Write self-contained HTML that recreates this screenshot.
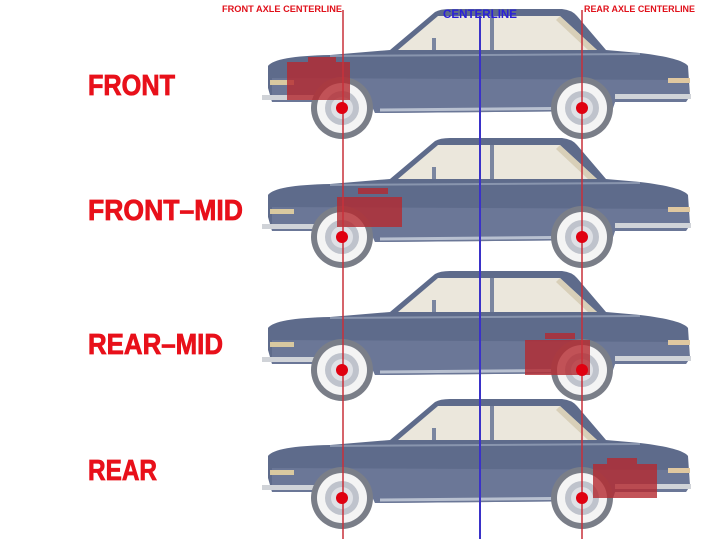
<!DOCTYPE html>
<html><head><meta charset="utf-8"><style>
html,body{margin:0;padding:0;background:#fff;width:720px;height:539px;overflow:hidden}
svg{display:block}
text{font-family:"Liberation Sans",sans-serif;font-weight:bold}
</style></head><body>
<svg width="720" height="539" viewBox="0 0 720 539" xmlns="http://www.w3.org/2000/svg">
<defs>
<g id="car">
  <path d="M268,-42 Q275,-52 330,-53 L390,-58 L435,-96 Q440,-99 450,-99 L562,-99 Q572,-98 577,-92 L606,-58 L640,-55 Q682,-50 688,-42 L690,-12 L686,-6 L615,-6 L612,3 L375,5 L370,-6 L272,-6 L268,-20 Z" fill="#5e6b8b"/>
  <path d="M272,-30 L688,-28 L690,-12 L686,-6 L615,-6 L612,3 L375,5 L370,-6 L272,-6 Z" fill="#6e7b9a" opacity="0.8"/>
  <path d="M398,-58 L438,-92 L560,-92 L597,-58 Z" fill="#ebe7dc"/>
  <rect x="490" y="-92" width="4" height="34" fill="#7b86a0"/>
  <rect x="432" y="-70" width="4" height="12" fill="#7b86a0"/>
  <path d="M560,-92 L597,-58 L588,-58 L556,-88 Z" fill="#d8cfb8"/>
  <line x1="330" y1="-52" x2="640" y2="-54" stroke="#8995ae" stroke-width="2"/>
  <rect x="262" y="-13" width="70" height="5" fill="#d0d3d8"/>
  <rect x="615" y="-14" width="76" height="5" fill="#d0d3d8"/>
  <rect x="270" y="-28" width="24" height="5" fill="#d9c9a0"/>
  <rect x="668" y="-30" width="22" height="5" fill="#e0c8a0"/>
  <line x1="380" y1="2" x2="610" y2="0" stroke="#b8c0d0" stroke-width="3"/>
</g>
<g id="wheel">
  <circle r="31" fill="#7a7e88"/>
  <circle r="25" fill="#f4f4f4"/>
  <circle r="17" fill="#bfc3cc"/>
  <circle r="11" fill="#dfe1e6"/>
</g>
</defs>

<g transform="translate(0,108)"><use href="#car"/></g>
<g transform="translate(0,237)"><use href="#car"/></g>
<g transform="translate(0,370)"><use href="#car"/></g>
<g transform="translate(0,498)"><use href="#car"/></g>

<g transform="translate(342,108)"><use href="#wheel"/></g>
<g transform="translate(582,108)"><use href="#wheel"/></g>
<g transform="translate(342,237)"><use href="#wheel"/></g>
<g transform="translate(582,237)"><use href="#wheel"/></g>
<g transform="translate(342,370)"><use href="#wheel"/></g>
<g transform="translate(582,370)"><use href="#wheel"/></g>
<g transform="translate(342,498)"><use href="#wheel"/></g>
<g transform="translate(582,498)"><use href="#wheel"/></g>

<g fill="#b52a30" opacity="0.8">
  <rect x="287" y="62" width="63" height="38"/><rect x="308" y="57" width="28" height="7"/>
  <rect x="337" y="197" width="65" height="30"/><rect x="358" y="188" width="30" height="6"/>
  <rect x="525" y="340" width="65" height="35"/><rect x="545" y="333" width="30" height="6"/>
  <rect x="593" y="464" width="64" height="34"/><rect x="607" y="458" width="30" height="6"/>
</g>

<line x1="343" y1="10" x2="343" y2="539" stroke="#c8303a" stroke-width="1.5"/>
<line x1="582" y1="10" x2="582" y2="539" stroke="#c8303a" stroke-width="1.5"/>
<line x1="480" y1="16" x2="480" y2="539" stroke="#3a32c8" stroke-width="2"/>

<g fill="#e00010">
  <circle cx="342" cy="108" r="6"/><circle cx="582" cy="108" r="6"/>
  <circle cx="342" cy="237" r="6"/><circle cx="582" cy="237" r="6"/>
  <circle cx="342" cy="370" r="6"/><circle cx="582" cy="370" r="6"/>
  <circle cx="342" cy="498" r="6"/><circle cx="582" cy="498" r="6"/>
</g>

<text x="222" y="12" font-size="9" fill="#e0101a" textLength="120" lengthAdjust="spacingAndGlyphs">FRONT AXLE CENTERLINE</text>
<text x="443" y="18" font-size="12" fill="#2a20d8" textLength="74" lengthAdjust="spacingAndGlyphs">CENTERLINE</text>
<text x="584" y="12" font-size="9" fill="#e0101a" textLength="111" lengthAdjust="spacingAndGlyphs">REAR AXLE CENTERLINE</text>

<g fill="#e8101a" font-size="29" stroke="#e8101a" stroke-width="0.8">
<text x="88" y="95" textLength="87" lengthAdjust="spacingAndGlyphs">FRONT</text>
<text x="88" y="220" textLength="155" lengthAdjust="spacingAndGlyphs">FRONT–MID</text>
<text x="88" y="354" textLength="135" lengthAdjust="spacingAndGlyphs">REAR–MID</text>
<text x="88" y="480" textLength="69" lengthAdjust="spacingAndGlyphs">REAR</text>
</g>
</svg>
</body></html>
